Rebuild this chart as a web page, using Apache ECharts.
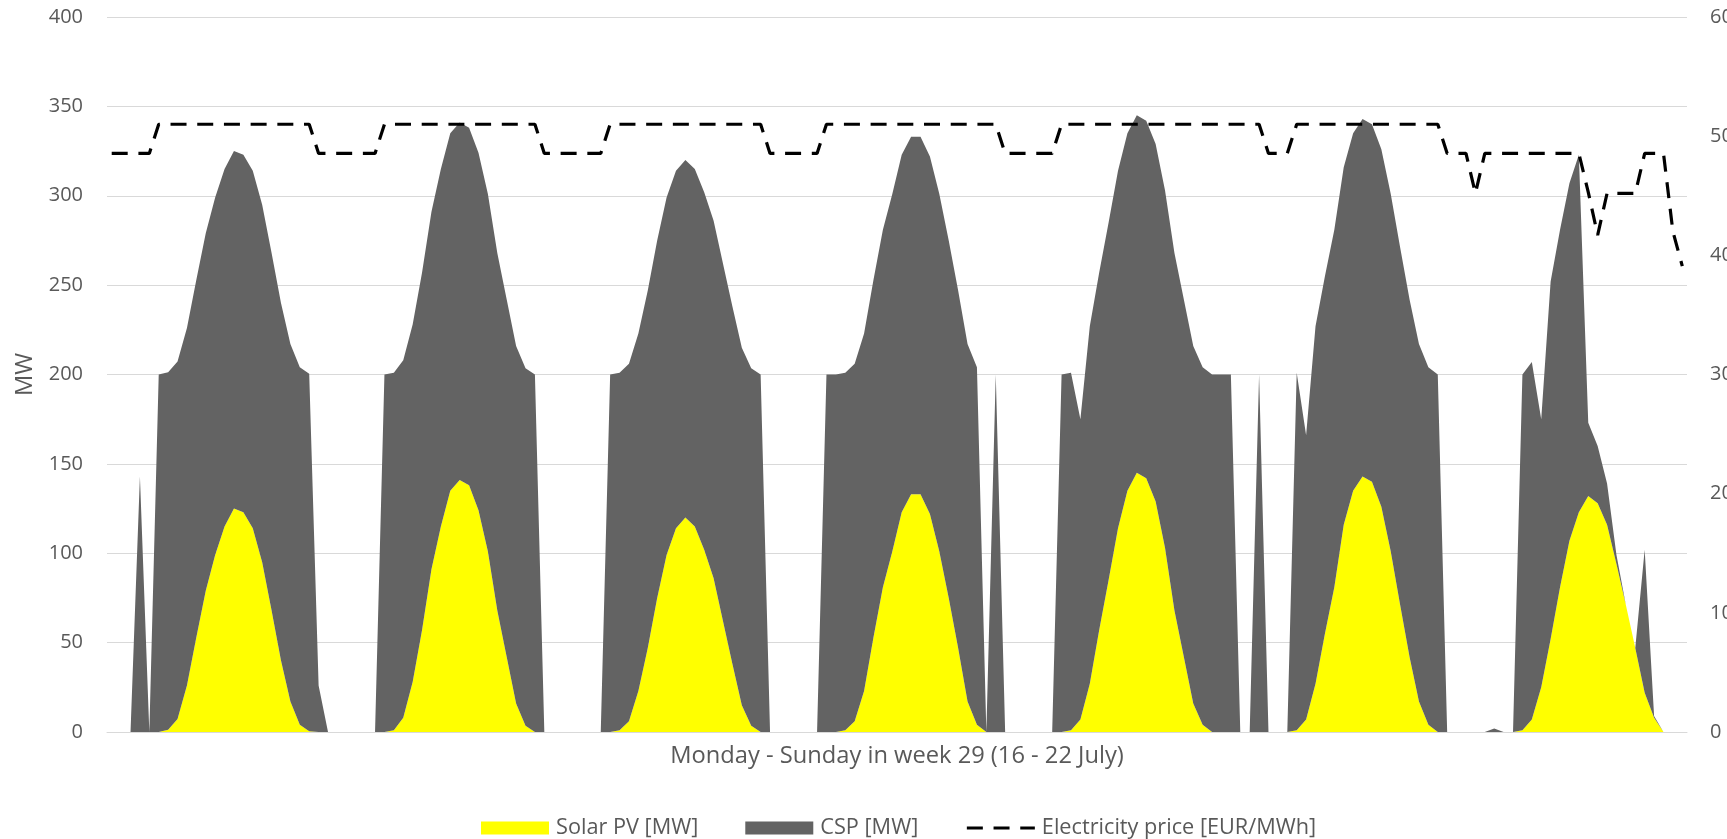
<!DOCTYPE html>
<html>
<head>
<meta charset="utf-8">
<title>Solar PV, CSP and electricity price – week 29</title>
<script src="https://cdn.jsdelivr.net/npm/echarts@6.0.0/dist/echarts.min.js"></script>
<style>
  html, body { margin: 0; padding: 0; background: #ffffff; overflow: hidden; }
  #chart { width: 1727px; height: 839px; }
</style>
</head>
<body>
<div id="chart"></div>
<script>
// Hourly series, Monday 00:00 to Sunday 23:00 (one row per day)
const pvMW = [
  0,0,0,0,0,0, 1.3,7.3,26,53,79,99,115,125,123,114,95,68,40,17,4,0.4, 0,0,
  0,0,0,0,0,0, 1,8,28,57,91,115,135,141,138,124,101,68,42,16,3.5, 0,0,0,
  0,0,0,0,0,0, 1,6,23,47,75,99,114,120,115,102,86,62,38,15,3.5, 0,0,0,
  0,0,0,0,0,0, 1,6,23,53,81,101,123,133,133,122,101,75,47,17,4, 0,0,0,
  0,0,0,0,0,0, 1,7,27,57,85,114,135,145,142,129,103,68,42,16,4, 0,0,0,
  0,0,0,0,0,0, 1,7,27,55,81,116,135,143,140,126,101,71,42,17,4, 0,0,0,
  0,0,0,0,0,0, 1,7,25,52,81,107,123,132,128,116,94,71,47,22,8, 0,0,0
];

const cspMW = [
  0,0,0,143,0, 200,200,200,200,200,200,200,200,200,200,200,200,200,200,200,200,200, 26,0,
  0,0,0,0,0, 200,200,200,200,200,200,200,200,200,200,200,200,200,200,200,200,200, 0,0,
  0,0,0,0,0, 200,200,200,200,200,200,200,200,200,200,200,200,200,200,200,200,200, 0,0,
  0,0,0,0, 200,200,200,200,200,200,200,200,200,200,200,200,200,200,200,200,200, 0,200,0,
  0,0,0,0,0, 200,200,168, 200,200,200,200,200,200,200,200,200,200,200,200,200,200,200,200,
  0,0,200, 0,0,0, 200,159, 200,200,200,200,200,200,200,200,200,200,200,200,200,200, 0,0,
  0,0,0,2,0,0, 199,200,150, 200,200,200,200, 41,32,23,5, 0,0, 80,1, 0,0,0
];

const priceEUR = [
  48.55,48.55,48.55,48.55,48.55, 51,51,51,51,51,51,51,51,51,51,51,51,51,51,51,51,51, 48.55,48.55,
  48.55,48.55,48.55,48.55,48.55, 51,51,51,51,51,51,51,51,51,51,51,51,51,51,51,51,51, 48.55,48.55,
  48.55,48.55,48.55,48.55,48.55, 51,51,51,51,51,51,51,51,51,51,51,51,51,51,51,51,51, 48.55,48.55,
  48.55,48.55,48.55,48.55, 51,51,51,51,51,51,51,51,51,51,51,51,51,51,51,51,51,51,51, 48.55,
  48.55,48.55,48.55,48.55,48.55, 51,51,51,51,51,51,51,51,51,51,51,51,51,51,51,51,51,51,51,
  51,51,51, 48.55,48.55,48.55, 51,51,51,51,51,51,51,51,51,51,51,51,51,51,51,51, 48.55,48.55,
  48.55,45.2, 48.55,48.55,48.55,48.55,48.55,48.55,48.55,48.55,48.55,48.55,48.55, 45.3,41.7,
  45.2,45.2,45.2,45.2, 48.55,48.55,48.55, 42,39.1
];

const dayNames = ['Mon', 'Tue', 'Wed', 'Thu', 'Fri', 'Sat', 'Sun'];
const hours = [];
dayNames.forEach(d => { for (let h = 0; h < 24; h++) hours.push(d + ' ' + String(h).padStart(2, '0') + ':00'); });

const mwAxis = { min: 0, max: 400, step: 50 };
const priceAxis = { min: 0, max: 60, step: 10 };

const seriesNames = ['Solar PV [MW]', 'CSP [MW]', 'Electricity price [EUR/MWh]'];
const xTitle = 'Monday - Sunday in week 29 (16 - 22 July)';
const yTitle = 'MW';

const FONT = '"Open Sans", "Liberation Sans", sans-serif';
const TEXT = '#595959';
const GRID = '#D9D9D9';
const PRICE_DASH = [16, 10.7];

const chart = echarts.init(document.getElementById('chart'), null, { renderer: 'canvas' });

chart.setOption({
  animation: false,
  backgroundColor: '#ffffff',
  textStyle: { fontFamily: FONT },
  grid: { left: 107, right: 40, top: 17, bottom: 107, containLabel: false, outerBoundsMode: 'none' },
  legend: {
    top: 812,
    left: 476,
    itemWidth: 68,
    itemHeight: 13,
    itemGap: 47,
    textStyle: { fontSize: 21.7, color: TEXT, fontFamily: FONT, padding: [0, 0, 0, 2] },
    data: [
      { name: seriesNames[0], icon: 'rect' },
      { name: seriesNames[1], icon: 'rect' },
      {
        name: seriesNames[2],
        itemStyle: { opacity: 0 },
        lineStyle: { color: '#000000', width: 3.2, type: PRICE_DASH }
      }
    ]
  },
  xAxis: {
    type: 'category',
    data: hours,
    boundaryGap: true,
    axisTick: { show: false },
    axisLabel: { show: false },
    axisLine: { lineStyle: { color: GRID, width: 1 } },
    name: xTitle,
    nameLocation: 'middle',
    nameGap: 12,
    nameTextStyle: { fontSize: 23.7, color: TEXT, fontFamily: FONT }
  },
  yAxis: [
    {
      type: 'value',
      min: mwAxis.min, max: mwAxis.max, interval: mwAxis.step,
      axisLine: { show: false },
      axisTick: { show: false },
      axisLabel: { fontSize: 20, color: TEXT, margin: 24, fontFamily: FONT },
      splitLine: { lineStyle: { color: GRID, width: 1 } },
      name: yTitle,
      nameLocation: 'middle',
      nameRotate: 90,
      nameGap: 70,
      nameTextStyle: { fontSize: 23.7, color: TEXT, fontFamily: FONT }
    },
    {
      type: 'value',
      position: 'right',
      min: priceAxis.min, max: priceAxis.max, interval: priceAxis.step,
      axisLine: { show: false },
      axisTick: { show: false },
      axisLabel: { fontSize: 20, color: TEXT, margin: 23, fontFamily: FONT },
      splitLine: { show: false }
    }
  ],
  series: [
    {
      name: seriesNames[0],
      type: 'line',
      stack: 'generation',
      data: pvMW,
      symbol: 'none',
      lineStyle: { width: 0 },
      itemStyle: { color: '#FFFF00' },
      areaStyle: { color: '#FFFF00', opacity: 1 }
    },
    {
      name: seriesNames[1],
      type: 'line',
      stack: 'generation',
      data: cspMW,
      symbol: 'none',
      lineStyle: { width: 0 },
      itemStyle: { color: '#636363' },
      areaStyle: { color: '#636363', opacity: 1 }
    },
    {
      name: seriesNames[2],
      type: 'line',
      yAxisIndex: 1,
      data: priceEUR,
      symbol: 'none',
      itemStyle: { color: '#000000' },
      lineStyle: { color: '#000000', width: 3.2, type: PRICE_DASH },
      z: 5
    }
  ]
});
</script>
</body>
</html>
